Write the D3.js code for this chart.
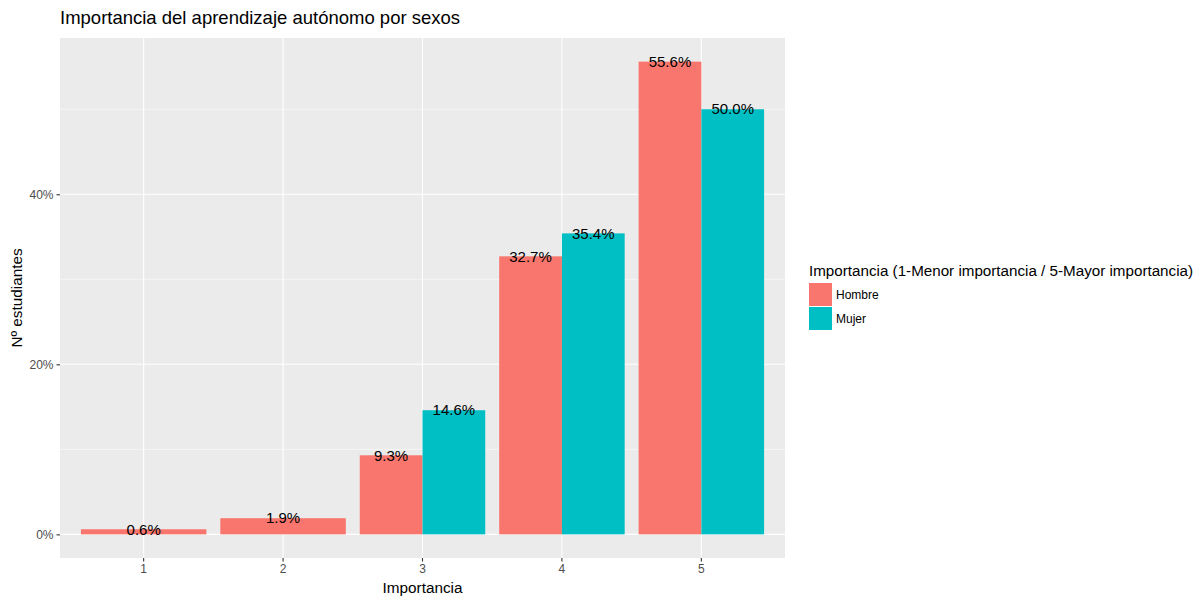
<!DOCTYPE html>
<html><head><meta charset="utf-8">
<script src="https://cdnjs.cloudflare.com/ajax/libs/d3/7.8.5/d3.min.js"></script>
<style>body{margin:0;background:#fff}svg{display:block;font-family:"Liberation Sans",Arial,Helvetica,sans-serif}</style>
</head><body><svg id="c" width="1203" height="598"></svg>
<script>
const categories = ["1","2","3","4","5"];
const series = ["Hombre","Mujer"];
const hombre = [0.6, 1.9, 9.3, 32.7, 55.6];
const mujer = [null, null, 14.6, 35.4, 50.0];
const colors = ["#F8766D","#00BFC4"];
const yTicks = [0, 20, 40];
const yMinor = [10, 30, 50];
const title = "Importancia del aprendizaje autónomo por sexos";
const xTitle = "Importancia";
const yTitle = "Nº estudiantes";
const legendTitle = "Importancia (1-Menor importancia / 5-Mayor importancia)";

const svg = d3.select("#c");
const P = {l:60, r:785, t:38, b:558};
const maxV = d3.max(hombre.concat(mujer.filter(v=>v!=null)));
const y = d3.scaleLinear().domain([-0.05*maxV, 1.05*maxV]).range([P.b, P.t]);
const x = d3.scaleBand().domain(categories).range([P.l, P.r]).paddingInner(0.1).paddingOuter(0.15);

svg.append("rect").attr("x",P.l).attr("y",P.t).attr("width",P.r-P.l).attr("height",P.b-P.t).attr("fill","#EBEBEB");
const g = svg.append("g");
yMinor.forEach(v=>g.append("line").attr("x1",P.l).attr("x2",P.r).attr("y1",y(v)).attr("y2",y(v)).attr("stroke","#fff").attr("stroke-width",0.55));
yTicks.forEach(v=>g.append("line").attr("x1",P.l).attr("x2",P.r).attr("y1",y(v)).attr("y2",y(v)).attr("stroke","#fff").attr("stroke-width",1.1));
categories.forEach(c=>{const cx=x(c)+x.bandwidth()/2; g.append("line").attr("x1",cx).attr("x2",cx).attr("y1",P.t).attr("y2",P.b).attr("stroke","#fff").attr("stroke-width",1.1);});

const data = categories.map((c,i)=>{
  const vals = [hombre[i], mujer[i]].map((v,j)=>({s:j,v})).filter(d=>d.v!=null);
  return {c, vals};
});
data.forEach(d=>{
  const inner = d3.scaleBand().domain(d.vals.map(v=>v.s)).range([x(d.c), x(d.c)+x.bandwidth()]);
  d.vals.forEach(v=>{
    g.append("rect").attr("x",inner(v.s)).attr("width",inner.bandwidth())
      .attr("y",y(v.v)).attr("height",y(0)-y(v.v)).attr("fill",colors[v.s]);
  });
  d.vals.forEach(v=>{
    g.append("text").attr("x",inner(v.s)+inner.bandwidth()/2).attr("y",y(v.v)).attr("dy","0.35em")
      .attr("text-anchor","middle").attr("font-size",15).attr("fill","#000").text(v.v.toFixed(1)+"%");
  });
});

// axes
const xa = svg.append("g").attr("transform",`translate(0,${P.b})`)
  .call(d3.axisBottom(x).tickSize(3.5).tickPadding(3));
xa.select(".domain").remove();
xa.selectAll("line").attr("stroke","#333").attr("stroke-width",1.1);
xa.selectAll("text").attr("fill","#4D4D4D").attr("font-size",12).attr("font-family",null);
const ya = svg.append("g").attr("transform",`translate(${P.l},0)`)
  .call(d3.axisLeft(y).tickValues(yTicks).tickFormat(d=>d+"%").tickSize(3.5).tickPadding(3));
ya.select(".domain").remove();
ya.selectAll("line").attr("stroke","#333").attr("stroke-width",1.1);
ya.selectAll("text").attr("fill","#4D4D4D").attr("font-size",12).attr("font-family",null);

svg.append("text").attr("x",P.l).attr("y",24).attr("font-size",18.5).attr("fill","#000").text(title);
svg.append("text").attr("x",(P.l+P.r)/2).attr("y",593).attr("text-anchor","middle").attr("font-size",15.3).text(xTitle);
svg.append("text").attr("transform",`translate(22,${(P.t+P.b)/2}) rotate(-90)`).attr("text-anchor","middle").attr("font-size",15.3).text(yTitle);

// legend
const L = svg.append("g");
L.append("text").attr("x",809).attr("y",276).attr("font-size",15.2).text(legendTitle);
series.forEach((s,i)=>{
  L.append("rect").attr("x",809).attr("y",283+i*24).attr("width",23).attr("height",23).attr("fill",colors[i]);
  L.append("text").attr("x",836).attr("y",295+i*24).attr("dy","0.35em").attr("font-size",12).text(s);
});
</script></body></html>
